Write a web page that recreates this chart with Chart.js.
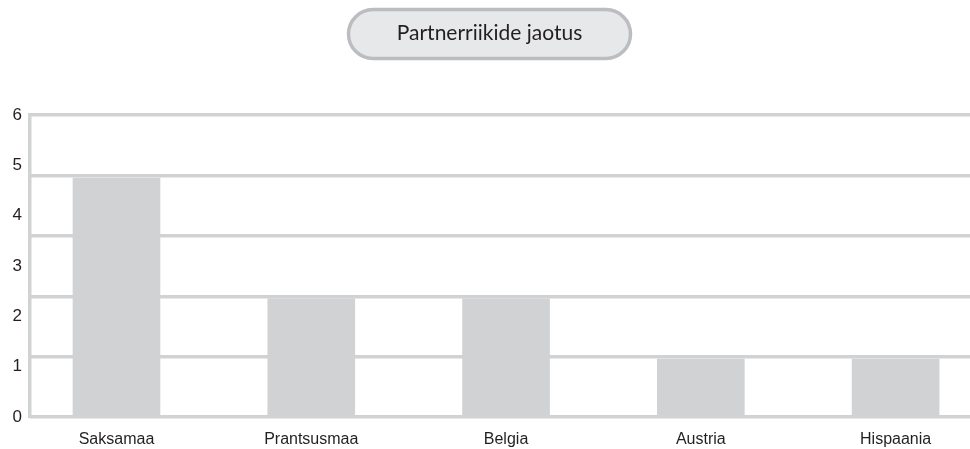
<!DOCTYPE html>
<html><head><meta charset="utf-8">
<script src="https://cdn.jsdelivr.net/npm/chart.js@4/dist/chart.umd.min.js"></script>
<style>html,body{margin:0;padding:0;background:#fff;overflow:hidden}#wrap{width:970px;height:449px;position:relative}</style>
</head><body><div id="wrap"><canvas id="c" width="970" height="449"></canvas></div>
<script>
const chartTitle = 'Partnerriikide jaotus';
const categories = ['Saksamaa', 'Prantsusmaa', 'Belgia', 'Austria', 'Hispaania'];
const partnerCounts = [4.75, 2.35, 2.35, 1.15, 1.15];
const tickLabels = ['0', '1', '2', '3', '4', '5', '6'];

const GREY = '#d1d2d4';
const TEXT = '#231f20';

const pillPlugin = {
  id: 'pill',
  beforeDraw(chart) {
    const tb = chart.titleBlock;
    if (!tb) return;
    const ctx = chart.ctx;
    const cx = (tb.left + tb.right) / 2;
    const cy = 34;
    const w = 282, h = 49, r = h / 2;
    ctx.save();
    ctx.beginPath();
    ctx.moveTo(cx - w / 2 + r, cy - h / 2);
    ctx.lineTo(cx + w / 2 - r, cy - h / 2);
    ctx.arc(cx + w / 2 - r, cy, r, -Math.PI / 2, Math.PI / 2);
    ctx.lineTo(cx - w / 2 + r, cy + h / 2);
    ctx.arc(cx - w / 2 + r, cy, r, Math.PI / 2, Math.PI * 1.5);
    ctx.closePath();
    ctx.fillStyle = '#e7e8e9';
    ctx.fill();
    ctx.lineWidth = 3.5;
    ctx.strokeStyle = '#bcbdc0';
    ctx.stroke();
    ctx.restore();
  }
};

new Chart(document.getElementById('c'), {
  type: 'bar',
  data: {
    datasets: [{
      data: partnerCounts.map((v, i) => ({ x: i, y: v })),
      backgroundColor: GREY,
      borderWidth: 0,
      barThickness: 87,
      xAxisID: 'x',
      yAxisID: 'y'
    }]
  },
  plugins: [pillPlugin],
  options: {
    responsive: false,
    animation: false,
    layout: { padding: { left: 9, right: 0, top: 0, bottom: 0 } },
    plugins: {
      legend: { display: false },
      tooltip: { enabled: false },
      title: {
        display: true,
        text: chartTitle,
        color: TEXT,
        font: { family: 'Lato', size: 21, weight: 'normal' },
        padding: { top: 21, bottom: 69 }
      }
    },
    scales: {
      x: {
        type: 'linear',
        offset: false,
        min: -0.444,
        max: 4.382,
        grid: { display: false, drawTicks: false },
        border: { display: false },
        afterFit: (s) => { s.height = 32; s.paddingLeft = 0; s.paddingRight = 0; },
        ticks: {
          stepSize: 1,
          autoSkip: false,
          maxRotation: 0,
          padding: 13,
          color: TEXT,
          font: { family: 'Liberation Sans', size: 16 },
          callback: (v) => (Number.isInteger(v) && categories[v] !== undefined) ? categories[v] : ''
        }
      },
      y: {
        position: 'left',
        min: 0,
        max: 6,
        grid: { display: false, drawTicks: false },
        border: { display: true, color: GREY, width: 3.5 },
        afterFit: (s) => { s.width = 21; },
        ticks: {
          stepSize: 1,
          padding: 8,
          color: TEXT,
          font: { family: 'Liberation Sans', size: 17 },
          callback: (v) => tickLabels[v]
        }
      },
      y2: {
        position: 'right',
        min: 0,
        max: 5,
        grid: { display: true, color: GREY, lineWidth: 3.5, drawTicks: false },
        border: { display: false },
        afterFit: (s) => { s.width = 0; },
        ticks: { display: false, stepSize: 1 }
      }
    }
  }
});
</script>
</body></html>
